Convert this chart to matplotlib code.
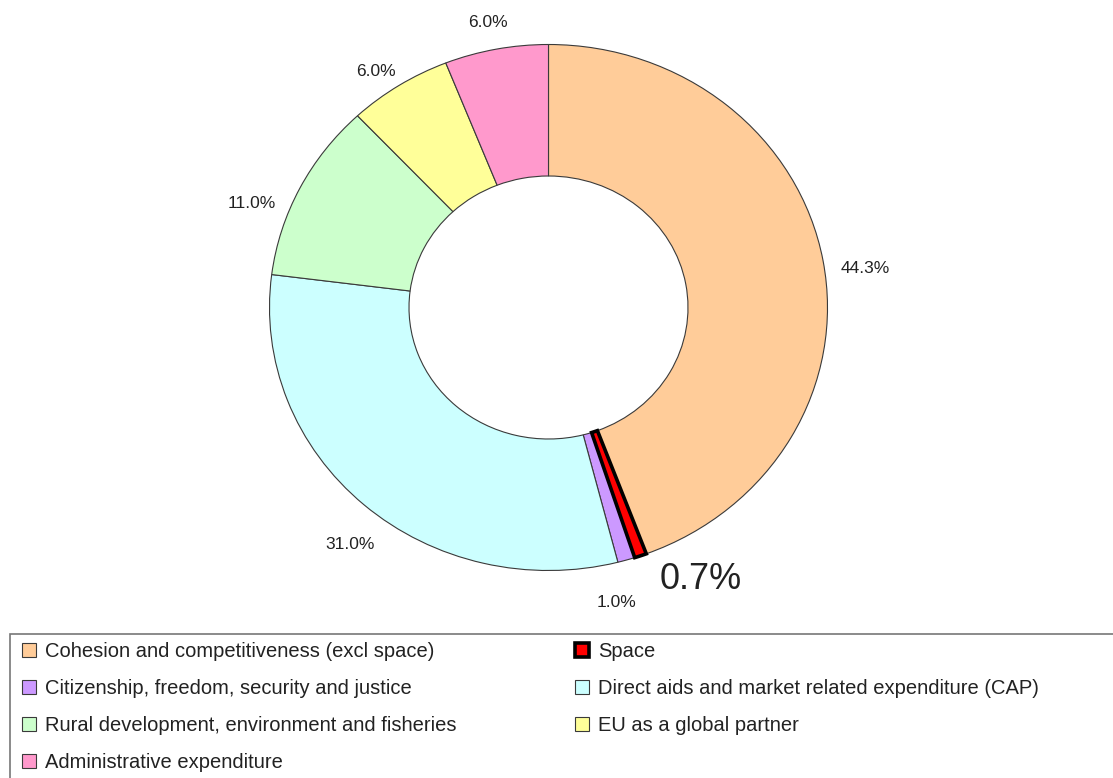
import matplotlib.pyplot as plt
from matplotlib.patches import Rectangle

plt.rcParams["font.family"] = ["Liberation Sans", "DejaVu Sans"]

categories = [
    "Cohesion and competitiveness (excl space)",
    "Space",
    "Citizenship, freedom, security and justice",
    "Direct aids and market related expenditure (CAP)",
    "Rural development, environment and fisheries",
    "EU as a global partner",
    "Administrative expenditure",
]
shares = [44.3, 0.7, 1.0, 31.0, 11.0, 6.0, 6.0]
colors = ["#FFCC99", "#FF0000", "#CC99FF", "#CCFFFF", "#CCFFCC", "#FFFF99", "#FF99CC"]

# label anchor points (data units of the pie axes)
label_pos = [(1.134, 0.150), (0.547, -1.036), (0.242, -1.120), (-0.711, -0.903),
             (-1.063, 0.397), (-0.618, 0.899), (-0.217, 1.082)]

W, H = 1113, 778
fig = plt.figure(figsize=(W / 100, H / 100), dpi=100)
ax = fig.add_axes([0, 0, 1, 1])

wedges, _ = ax.pie(shares, colors=colors, startangle=90, counterclock=False,
                   wedgeprops=dict(width=0.5, edgecolor="#3a3a3a", linewidth=0.8))
# the space slice is highlighted
wedges[1].set_edgecolor("black")
wedges[1].set_linewidth(2.6)
wedges[1].set_zorder(5)

# pie is a bit wider than tall in the original
cx, cy, rx, ry = 548.5, 307.5, 279, 263
ax.set_aspect("auto")
ax.set_xlim(-cx / rx, (W - cx) / rx)
ax.set_ylim(-(H - cy) / ry, cy / ry)
ax.axis("off")

for i, (v, (x, y)) in enumerate(zip(shares, label_pos)):
    size = 26 if i == 1 else 12.5
    ax.text(x, y, f"{v:.1f}%", ha="center", va="center", fontsize=size, color="#222222")

# legend box runs off the right and bottom edge
fig.patches.append(Rectangle((10 / W, -0.05), 1.2, (H - 634) / H + 0.05, transform=fig.transFigure,
                             facecolor="white", edgecolor="#777777", linewidth=1.2, zorder=0))

order = [0, 2, 4, 6, 1, 3, 5]
leg = fig.legend([wedges[i] for i in order], [categories[i] for i in order],
                 loc="upper left", bbox_to_anchor=(22 / W, 1 - 642 / H), ncol=2,
                 frameon=False, fontsize=14.5, handlelength=0.68, handleheight=0.68,
                 handletextpad=0.45, labelspacing=0.89, columnspacing=5.9,
                 borderaxespad=0, borderpad=0)
for t in leg.get_texts():
    t.set_color("#222222")

fig.savefig("out.png", dpi=100)
